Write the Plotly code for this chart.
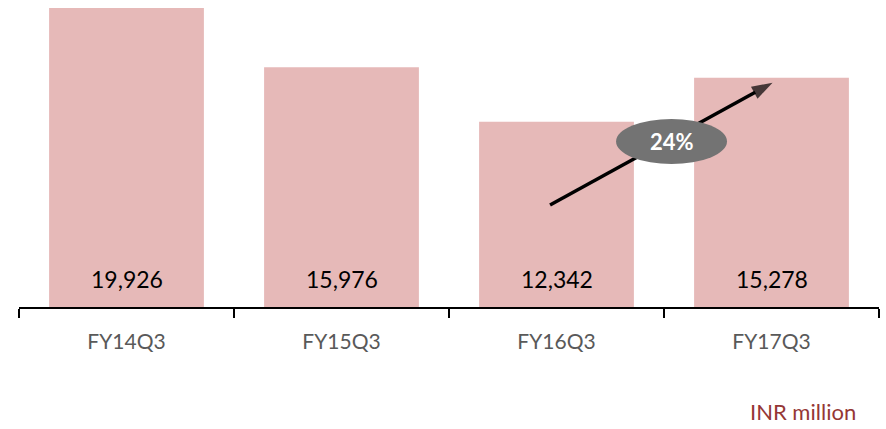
import plotly.graph_objects as go

# Quarterly figures, INR million
quarters = ["FY14Q3", "FY15Q3", "FY16Q3", "FY17Q3"]
values = [19926, 15976, 12342, 15278]
unit_label = "INR million"

bar_color = "#E6B9B8"
font_family = "Lato, 'Open Sans', sans-serif"

growth = round((values[3] - values[2]) / values[2] * 100)

fig = go.Figure()
fig.add_trace(go.Bar(
    x=quarters, y=values, marker=dict(color=bar_color, line=dict(width=0)),
    width=0.72, hoverinfo="skip",
))

# Growth arrow from FY16Q3 towards FY17Q3 (drawn on a hidden numeric x axis)
fig.add_trace(go.Scatter(
    x=[1.97, 3.005], y=[6800, 14950], xaxis="x2", mode="lines+markers",
    line=dict(color="black", width=3.5),
    marker=dict(symbol="arrow", size=[0, 22], angleref="previous", color="black",
                line=dict(width=0)),
    hoverinfo="skip", showlegend=False, cliponaxis=False,
))

fig.add_shape(type="circle", xref="x2", yref="y",
              x0=2.277, x1=2.793, y0=9530, y1=12530,
              fillcolor="#737373", line=dict(width=0), layer="above")
fig.add_annotation(x=2.535, y=11030, xref="x2", yref="y", text=f"<b>{growth}%</b>",
                   showarrow=False, font=dict(color="white", size=22, family=font_family))

# Value labels at the foot of each bar
for q, v in zip(quarters, values):
    fig.add_annotation(x=q, y=0, xref="x", yref="y", text=f"{v:,}", showarrow=False,
                       yanchor="bottom", yshift=12,
                       font=dict(color="black", size=23, family=font_family))

# Unit note under the axis, right-aligned
fig.add_annotation(x=(858 - 19) / 860, y=-(412 - 307) / 302, xref="paper", yref="paper",
                   xanchor="right", yanchor="middle", text=unit_label, showarrow=False,
                   font=dict(color="#953735", size=22, family=font_family))

fig.update_layout(
    width=886, height=429,
    margin=dict(l=19, r=7, t=5, b=122),
    plot_bgcolor="white", paper_bgcolor="white",
    showlegend=False, bargap=0.28,
    xaxis=dict(type="category", showline=True, linecolor="black", linewidth=2,
               ticks="outside", tickson="boundaries", ticklen=9, tickwidth=2,
               tickcolor="black", ticklabelstandoff=15,
               tickfont=dict(color="#595959", size=21, family=font_family),
               range=[-0.5, 3.5], showgrid=False),
    xaxis2=dict(overlaying="x", range=[-0.5, 3.5], visible=False, showgrid=False),
    yaxis=dict(visible=False, range=[0, 20125], showgrid=False),
)

fig.write_html("out.html")
